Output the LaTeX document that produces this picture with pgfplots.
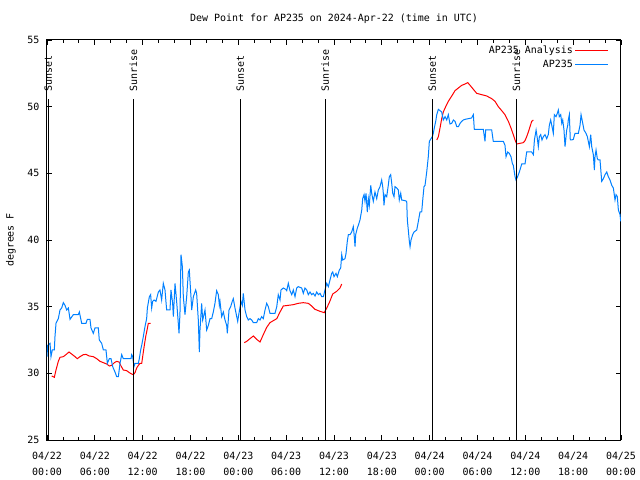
\documentclass[border=0pt]{standalone}
\usepackage{fontspec}
\setmainfont{DejaVu Sans Mono}
\usepackage{pgfplots}
\usepackage{pgfplotstable}
\pgfplotsset{compat=1.18}
\definecolor{redline}{RGB}{255,0,0}
\definecolor{blueline}{RGB}{0,128,255}

\pgfplotstableread{
h v
0.00 31.25
0.08 32.1
0.38 32.25
0.50 31.25
0.67 31.75
0.92 31.75
1.00 32.75
1.13 33.75
1.42 34.1
1.63 34.75
1.84 34.9
2.05 35.3
2.26 35.1
2.47 34.75
2.68 34.9
2.89 34.05
3.30 34.4
3.93 34.4
4.06 34.6
4.35 33.75
4.89 33.75
5.06 34.05
5.39 34.05
5.52 33.4
5.81 33.0
6.02 33.4
6.44 33.4
6.56 32.5
6.86 32.25
7.07 31.75
7.40 31.75
7.57 30.75
7.82 31.1
8.03 31.1
8.24 30.5
8.53 30.1
8.74 29.75
8.95 29.75
9.16 30.75
9.37 31.4
9.57 31.1
10.54 31.1
10.62 31.4
10.75 31.25
10.91 30.5
11.04 30.75
11.46 30.75
11.58 31.1
11.75 31.75
11.88 32.1
12.08 32.75
12.29 33.5
12.50 34.1
12.59 34.9
12.84 35.75
13.00 35.9
13.13 34.9
13.25 35.4
13.42 35.5
13.67 35.4
13.97 36.1
14.17 36.25
14.38 35.5
14.59 36.75
14.80 36.25
15.01 34.75
15.43 34.75
15.55 36.25
15.76 35.25
15.85 34.25
16.06 36.75
16.26 35.4
16.47 33.75
16.56 33.0
16.68 34.5
16.81 38.9
16.98 38.0
17.10 35.75
17.31 34.4
17.52 35.75
17.73 37.6
17.85 37.75
18.06 35.75
18.15 34.75
18.36 35.75
18.65 36.25
18.77 36.0
18.98 34.0
19.11 31.6
19.19 33.25
19.40 35.25
19.53 34.0
19.69 34.4
19.82 34.75
20.03 33.25
20.24 33.6
20.45 34.1
20.66 34.1
20.86 34.6
21.07 35.25
21.28 36.2
21.49 35.9
21.62 35.1
21.70 35.4
21.91 34.25
22.12 34.6
22.33 34.0
22.54 33.6
22.62 33.0
22.83 34.75
23.04 35.0
23.24 35.4
23.37 35.6
23.58 34.9
23.80 34.25
23.92 33.9
24.08 34.5
24.34 35.4
24.50 35.1
24.62 36.0
24.84 34.75
25.05 34.25
25.25 34.0
25.46 34.1
25.68 34.0
25.88 33.8
26.30 33.8
26.51 34.1
26.72 34.0
26.93 34.25
27.13 34.1
27.35 34.75
27.56 35.25
27.76 35.0
27.97 34.5
28.60 34.5
28.82 35.0
29.01 35.9
29.23 35.5
29.35 36.25
29.64 36.4
29.94 36.3
30.07 36.2
30.27 36.75
30.48 36.2
30.70 35.9
30.90 36.25
31.11 35.75
31.32 36.4
31.52 36.5
31.95 36.4
32.15 36.0
32.36 36.4
32.58 36.25
32.78 35.9
32.99 36.1
33.20 35.9
33.40 36.0
33.62 35.8
33.83 36.1
34.04 35.9
34.25 36.0
34.46 35.75
34.67 35.75
34.87 36.25
35.09 36.75
35.29 36.5
35.50 37.0
35.71 37.5
35.84 37.6
36.00 37.25
36.25 37.5
36.42 37.25
36.67 37.75
36.84 37.9
36.97 38.9
37.09 38.5
37.38 38.6
37.51 39.0
37.67 39.9
37.80 40.4
38.01 40.4
38.22 40.6
38.42 41.0
38.51 40.5
38.64 39.5
38.72 40.4
38.93 40.9
39.05 41.1
39.26 41.5
39.48 42.25
39.60 43.1
39.77 43.4
39.89 42.9
40.02 43.5
40.18 42.1
40.31 43.1
40.43 42.6
40.61 44.1
40.73 43.5
40.93 42.9
41.14 43.6
41.36 43.1
41.56 43.75
41.77 44.0
41.98 44.5
42.11 44.0
42.19 43.5
42.27 42.6
42.40 43.4
42.61 43.25
42.81 44.1
42.94 44.75
43.11 44.9
43.24 44.25
43.37 43.5
43.53 43.25
43.65 44.0
43.87 43.9
44.07 43.75
44.19 43.0
44.37 43.5
44.49 43.0
44.91 42.95
45.12 42.9
45.20 41.5
45.32 40.75
45.45 39.9
45.54 39.5
45.66 40.0
45.87 40.4
46.04 40.6
46.38 40.75
46.58 41.4
46.79 42.1
47.00 42.1
47.13 43.0
47.29 44.0
47.42 44.1
47.63 45.1
47.83 46.25
47.96 47.4
48.17 47.6
48.33 47.75
48.46 48.0
48.58 48.4
48.76 48.9
48.89 49.4
49.09 49.8
49.30 49.7
49.51 49.6
49.71 49.0
49.93 49.25
50.14 49.0
50.34 49.4
50.55 48.7
50.77 48.75
50.97 49.0
51.18 48.9
51.40 48.5
51.60 48.5
51.81 48.75
52.02 48.9
52.22 49.0
52.44 49.05
52.85 49.1
53.27 49.15
53.48 49.4
53.60 48.3
54.73 48.3
54.86 47.75
54.94 47.4
55.03 48.25
55.36 48.25
55.78 48.25
55.98 47.4
57.24 47.4
57.45 47.1
57.58 46.25
57.79 46.6
57.99 46.5
58.20 46.25
58.37 45.75
58.49 45.6
58.62 45.1
58.71 44.75
58.83 44.5
59.00 44.7
59.25 45.1
59.55 45.7
59.96 45.7
60.17 46.6
60.80 46.6
61.01 46.4
61.14 47.5
61.35 48.25
61.51 47.6
61.63 47.0
61.76 47.75
61.93 47.9
62.09 47.5
62.26 47.75
62.47 47.9
62.68 47.6
62.88 47.9
63.01 48.6
63.18 49.0
63.35 48.5
63.51 48.0
63.64 49.4
63.85 49.25
64.01 49.5
64.14 49.75
64.26 49.25
64.44 49.4
64.57 48.75
64.69 49.0
64.85 48.25
64.98 47.0
65.19 48.25
65.32 48.6
65.39 49.0
65.52 49.4
65.64 47.5
65.82 47.5
66.02 47.55
66.23 48.0
66.65 48.0
66.86 48.6
66.99 49.4
67.20 48.75
67.36 48.25
67.61 48.0
67.78 47.75
68.03 47.0
68.20 47.9
68.33 47.0
68.53 46.4
68.66 45.25
68.74 46.25
68.87 46.75
69.03 46.1
69.16 46.0
69.37 46.0
69.58 44.4
69.79 44.6
70.00 44.9
70.21 45.1
70.41 44.75
70.62 44.5
70.84 44.1
71.04 43.9
71.25 43.0
71.38 43.4
71.54 43.25
71.67 42.25
71.88 41.9
71.96 41.4
}\bluedata

\pgfplotstableread{
h v
0.59 29.8
0.92 29.7
1.13 30.25
1.42 30.9
1.63 31.2
2.05 31.25
2.47 31.45
2.76 31.6
3.09 31.45
3.51 31.25
3.80 31.1
4.14 31.25
4.56 31.4
4.89 31.42
5.31 31.3
5.81 31.25
6.23 31.1
6.65 30.9
7.07 30.8
7.49 30.7
7.82 30.55
8.11 30.6
8.45 30.8
8.74 30.9
9.04 30.85
9.29 30.55
9.57 30.25
9.99 30.2
10.33 30.05
10.62 29.95
10.83 29.9
11.04 30.05
11.25 30.4
11.46 30.6
11.67 30.75
11.88 30.75
12.00 31.25
12.17 31.95
12.38 32.75
12.55 33.25
12.71 33.75
13.00 33.75
13.01 nan
24.75 32.3
25.05 32.4
25.46 32.6
25.88 32.8
26.30 32.55
26.72 32.35
27.13 32.9
27.56 33.45
27.97 33.8
28.39 33.95
28.82 34.1
29.23 34.6
29.64 35.05
30.27 35.1
30.90 35.15
31.52 35.25
32.15 35.3
32.78 35.25
33.20 35.05
33.62 34.8
34.25 34.65
34.78 34.55
35.09 34.9
35.41 35.3
35.84 35.95
36.34 36.15
36.75 36.4
36.97 36.7
36.98 nan
48.89 47.5
49.09 47.75
49.30 48.4
49.51 49.1
49.71 49.6
50.01 50.0
50.34 50.4
50.77 50.8
51.18 51.2
51.60 51.4
52.02 51.6
52.44 51.7
52.78 51.8
53.07 51.6
53.48 51.3
53.90 51.0
54.53 50.9
55.16 50.8
55.78 50.6
56.20 50.4
56.61 50.0
57.04 49.7
57.45 49.4
57.87 48.9
58.20 48.4
58.49 47.9
58.71 47.5
58.92 47.2
59.33 47.25
59.75 47.3
59.96 47.45
60.17 47.75
60.38 48.1
60.59 48.5
60.80 48.9
61.01 49.0
}\reddata

\begin{document}
\begin{tikzpicture}
\path[use as bounding box] (-47bp,-40bp) rectangle (593bp,440bp);
\begin{axis}[
  scale only axis, width=574bp, height=400bp,
  xmin=0, xmax=72, ymin=25, ymax=55,
  clip mode=individual,
  xtick={0,6,12,18,24,30,36,42,48,54,60,66,72},
  xticklabels={{04/22\\00:00},{04/22\\06:00},{04/22\\12:00},{04/22\\18:00},{04/23\\00:00},{04/23\\06:00},{04/23\\12:00},{04/23\\18:00},{04/24\\00:00},{04/24\\06:00},{04/24\\12:00},{04/24\\18:00},{04/25\\00:00}},
  minor xtick={2,4,8,10,14,16,20,22,26,28,32,34,38,40,44,46,50,52,56,58,62,64,68,70},
  ytick={25,30,35,40,45,50,55},
  yticklabels={25,30,35,40,45,50,55},
  tick align=inside,
  major tick length=5bp, minor tick length=3bp,
  tick style={black, line width=0.8bp},
  axis line style={line width=1bp},
  font=\fontsize{10}{16}\selectfont,
  xticklabel style={align=center, font=\fontsize{10}{16}\selectfont, yshift=-9bp},
  yticklabel style={font=\fontsize{10}{12}\selectfont, xshift=-4bp},
  unbounded coords=jump,
  legend style={draw=none, fill=none, at={(1,1)}, anchor=north east, xshift=-9bp, yshift=-2bp,
    font=\fontsize{10}{12}\selectfont, row sep=1bp},
  legend cell align=right,
  legend plot pos=right,
  legend image code/.code={\path (0bp,0bp) -- (33bp,0bp); \draw[#1] (5bp,0bp) -- (33bp,0bp);},
]
\addplot[redline, line width=1bp] table[x=h, y=v] {\reddata};
\addlegendentry{AP235 Analysis}
\addplot[blueline, line width=1bp] table[x=h, y=v] {\bluedata};
\addlegendentry{AP235}

\addplot[black, line width=1bp, forget plot] coordinates {(0.16,25) (0.16,50.575)};
\addplot[black, line width=1bp, forget plot] coordinates {(10.83,25) (10.83,50.575)};
\addplot[black, line width=1bp, forget plot] coordinates {(24.25,25) (24.25,50.575)};
\addplot[black, line width=1bp, forget plot] coordinates {(34.9,25) (34.9,50.575)};
\addplot[black, line width=1bp, forget plot] coordinates {(48.33,25) (48.33,50.575)};
\addplot[black, line width=1bp, forget plot] coordinates {(58.87,25) (58.87,50.575)};

\node[rotate=90, anchor=west, inner sep=0pt, font=\fontsize{10}{12}\selectfont] at (axis cs:0.16,51.1) {Sunset};
\node[rotate=90, anchor=west, inner sep=0pt, font=\fontsize{10}{12}\selectfont] at (axis cs:10.83,51.1) {Sunrise};
\node[rotate=90, anchor=west, inner sep=0pt, font=\fontsize{10}{12}\selectfont] at (axis cs:24.25,51.1) {Sunset};
\node[rotate=90, anchor=west, inner sep=0pt, font=\fontsize{10}{12}\selectfont] at (axis cs:34.9,51.1) {Sunrise};
\node[rotate=90, anchor=west, inner sep=0pt, font=\fontsize{10}{12}\selectfont] at (axis cs:48.33,51.1) {Sunset};
\node[rotate=90, anchor=west, inner sep=0pt, font=\fontsize{10}{12}\selectfont] at (axis cs:58.87,51.1) {Sunrise};

\node[yshift=21bp, font=\fontsize{10}{12}\selectfont] at (rel axis cs:0.5,1) {Dew Point for AP235 on 2024-Apr-22 (time in UTC)};
\node[xshift=-36bp, rotate=90, font=\fontsize{10}{12}\selectfont] at (rel axis cs:0,0.5) {degrees F};
\end{axis}
\end{tikzpicture}
\end{document}
